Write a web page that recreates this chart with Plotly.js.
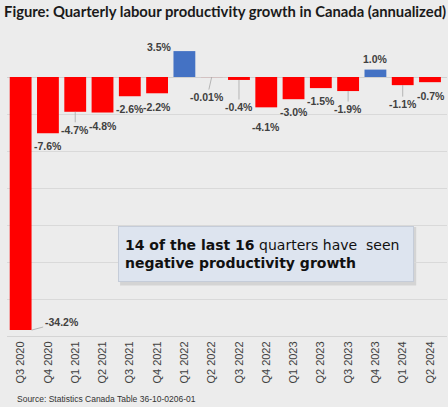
<!DOCTYPE html>
<html>
<head>
<meta charset="utf-8">
<script src="https://cdn.plot.ly/plotly-3.0.1.min.js"></script>
<style>
  html, body { margin: 0; padding: 0; background: #ececec; }
  #chart { width: 448px; height: 407px; }
</style>
</head>
<body>
<div id="chart"></div>
<script>
const quarters = ["Q3 2020", "Q4 2020", "Q1 2021", "Q2 2021", "Q3 2021", "Q4 2021", "Q1 2022", "Q2 2022",
  "Q3 2022", "Q4 2022", "Q1 2023", "Q2 2023", "Q3 2023", "Q4 2023", "Q1 2024", "Q2 2024"];
const growth = [-34.2, -7.6, -4.7, -4.8, -2.6, -2.2, 3.5, -0.01, -0.4, -4.1, -3.0, -1.5, -1.9, 1.0, -1.1, -0.7];
const growthLabels = ["-34.2%", "-7.6%", "-4.7%", "-4.8%", "-2.6%", "-2.2%", "3.5%", "-0.01%",
  "-0.4%", "-4.1%", "-3.0%", "-1.5%", "-1.9%", "1.0%", "-1.1%", "-0.7%"];

// where Excel put each data label, relative to the bar end (px)
// [dx, dy, leader line?]
const labelPos = [
  [30, -8, true], [0, 13, false], [0, 18, true], [0, 13.5, false],
  [0, 13, false], [0, 14, false], [-25, -4, false], [-4.5, 20, true],
  [0, 27, true], [0, 20, false], [0, 13, false], [0, 13, false],
  [0, 18, true], [0, -10.5, false], [0, 19, true], [1, 14, false]
];

const labelFont = { family: "Liberation Sans, Arial, sans-serif", size: 10.5, color: "#404040", weight: 700 };

const annotations = quarters.map((q, i) => {
  const [dx, dy, leader] = labelPos[i];
  const a = {
    x: q, y: growth[i], xref: "x", yref: "y",
    text: "<b>" + growthLabels[i] + "</b>",
    font: labelFont,
    xanchor: "center", yanchor: "middle"
  };
  if (leader) {
    Object.assign(a, {
      showarrow: true, arrowhead: 0, arrowwidth: 0.8, arrowcolor: "#a6a6a6",
      ax: dx, ay: dy, xshift: i === 0 ? 11 : 0
    });
  } else {
    Object.assign(a, { showarrow: false, xshift: dx, yshift: -dy });
  }
  return a;
});

// callout box
annotations.push({
  xref: "paper", yref: "paper", x: 0.5885, y: 0.277,
  xanchor: "center", yanchor: "middle", showarrow: false,
  text: "<b>14 of the last 16</b> quarters have&nbsp;&nbsp;seen<br><b>negative productivity growth</b>",
  align: "left", width: 282, height: 42, borderpad: 6,
  bgcolor: "#dde4ef", bordercolor: "#c5ccd8", borderwidth: 1,
  font: { family: "DejaVu Sans, Verdana, sans-serif", size: 14, color: "#111111" }
});

// source note
annotations.push({
  xref: "paper", yref: "paper", x: 0.018, y: -0.213,
  xanchor: "left", yanchor: "middle", showarrow: false,
  text: "Source: Statistics Canada Table 36-10-0206-01",
  font: { family: "Liberation Sans, Arial, sans-serif", size: 8.5, color: "#333333" }
});

Plotly.newPlot("chart", [{
  type: "bar",
  x: quarters,
  y: growth,
  marker: { color: growth.map(v => v < 0 ? "#ff0000" : "#4472c4") },
  hoverinfo: "x+y"
}], {
  width: 448, height: 407,
  margin: { l: 7, r: 1, t: 40, b: 71 },
  paper_bgcolor: "#ececec",
  plot_bgcolor: "rgba(0,0,0,0)",
  bargap: 0.2,
  showlegend: false,
  title: {
    text: "<b>Figure: Quarterly labour productivity growth in Canada (annualized)</b>",
    font: { family: "Lato, Liberation Sans, sans-serif", size: 14.8, color: "#1a1a1a" },
    xref: "container", yref: "container", x: 0.009, xanchor: "left", y: 0.97, yanchor: "middle"
  },
  xaxis: {
    type: "category",
    tickangle: -90,
    ticks: "",
    showline: true, linecolor: "#d4d4d4", linewidth: 1,
    tickfont: { family: "Liberation Sans, Arial, sans-serif", size: 11, color: "#404040" },
    fixedrange: true
  },
  yaxis: {
    range: [-35, 5],
    dtick: 5,
    showticklabels: false,
    ticks: "",
    gridcolor: "#d9d9d9", gridwidth: 1,
    zeroline: true, zerolinecolor: "#d0d0d0", zerolinewidth: 1,
    fixedrange: true
  },
  shapes: [{
    type: "rect", xref: "paper", yref: "paper", layer: "below",
    x0: 0.257, x1: 0.930, y0: 0.171, y1: 0.368,
    fillcolor: "rgba(0,0,0,0.10)", line: { width: 0 }
  }],
  annotations: annotations
}, { displayModeBar: false, staticPlot: true });
</script>
</body>
</html>
